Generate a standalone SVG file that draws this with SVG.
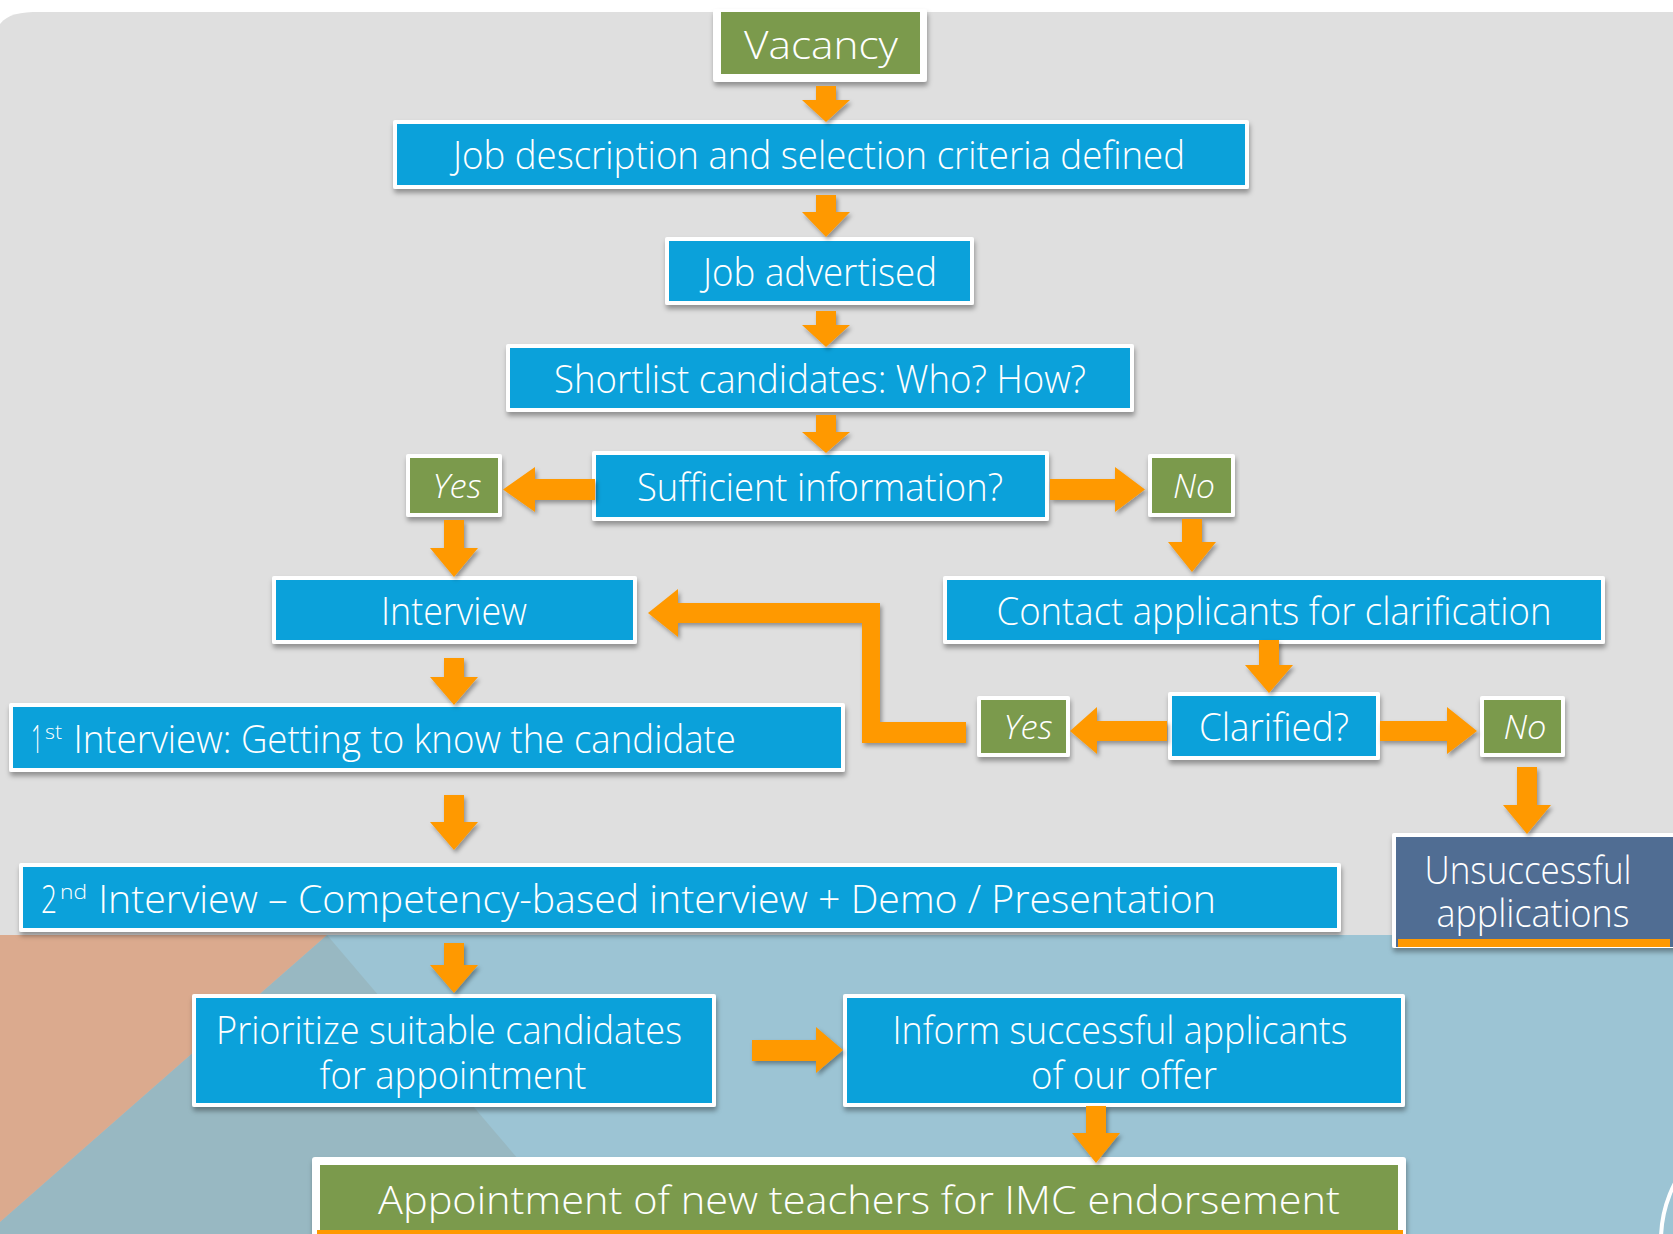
<svg xmlns="http://www.w3.org/2000/svg" width="1673" height="1234" viewBox="0 0 1673 1234">
<defs>
<filter id="sh" x="-5%" y="-20%" width="110%" height="150%">
<feDropShadow dx="1" dy="4" stdDeviation="2.5" flood-color="#000" flood-opacity="0.35"/>
</filter>
<filter id="ash" x="-30%" y="-30%" width="160%" height="160%">
<feDropShadow dx="2" dy="3" stdDeviation="2" flood-color="#000" flood-opacity="0.35"/>
</filter>
<style>
.frame{fill:#ffffff;filter:url(#sh)}
.blue{fill:#0BA1DA}
.green{fill:#7B9A4C}
.slate{fill:#506D93}
.bar{fill:#FF9900}
.t{font-family:"Open Sans","Segoe UI","Liberation Sans",sans-serif;fill:#ffffff;font-size:39px;font-weight:300}
.c{text-anchor:middle}
.i{font-style:italic;font-size:33px}
.sup{font-size:21px}
.arrow{fill:#FF9900;filter:url(#ash)}
</style>
</defs>

<g id="background">
<rect x="0" y="0" width="1673" height="1234" fill="#ffffff"/>
<path d="M0 24 C8 14 20 12 40 12 L1673 12 L1673 936 L0 936 Z" fill="#DFDFDF"/>
<rect x="0" y="935" width="1673" height="299" fill="#9CC4D4"/>
<polygon points="327,935 582,1234 0,1234 0,1222" fill="#98B8C2"/>
<polygon points="0,935 327,935 0,1222" fill="#DBAA8E"/>
<circle cx="1784" cy="1240" r="123" fill="none" stroke="#ffffff" stroke-width="4"/>
</g>

<g id="vacancy">
<rect class="frame" x="713" y="9" width="214" height="73" rx="3"/>
<rect class="green" x="721" y="12" width="199" height="62"/>
<text class="t c" x="821" y="59" font-size="44" textLength="154" lengthAdjust="spacingAndGlyphs">Vacancy</text>
</g>

<g id="job-description">
<rect class="frame" x="393" y="120" width="856" height="69" rx="2"/>
<rect class="blue" x="397" y="124" width="848" height="61"/>
<text class="t c" x="819" y="169" textLength="732" lengthAdjust="spacingAndGlyphs">Job description and selection criteria defined</text>
</g>

<g id="job-advertised">
<rect class="frame" x="665" y="237" width="309" height="68" rx="2"/>
<rect class="blue" x="669" y="241" width="301" height="60"/>
<text class="t c" x="820" y="286" textLength="234" lengthAdjust="spacingAndGlyphs">Job advertised</text>
</g>

<g id="shortlist">
<rect class="frame" x="506" y="344" width="628" height="68" rx="2"/>
<rect class="blue" x="510" y="348" width="620" height="60"/>
<text class="t c" x="820" y="393" textLength="532" lengthAdjust="spacingAndGlyphs">Shortlist candidates: Who? How?</text>
</g>

<g id="sufficient-information">
<rect class="frame" x="592" y="451" width="457" height="70" rx="2"/>
<rect class="blue" x="596" y="455" width="449" height="62"/>
<text class="t c" x="820" y="501" textLength="366" lengthAdjust="spacingAndGlyphs">Sufficient information?</text>
</g>

<g id="yes-1">
<rect class="frame" x="406" y="454" width="96" height="63" rx="2"/>
<rect class="green" x="410" y="458" width="88" height="55"/>
<text class="t c i" x="457" y="498" textLength="49" lengthAdjust="spacingAndGlyphs">Yes</text>
</g>

<g id="no-1">
<rect class="frame" x="1148" y="454" width="87" height="63" rx="2"/>
<rect class="green" x="1152" y="458" width="79" height="55"/>
<text class="t c i" x="1194" y="498" textLength="42" lengthAdjust="spacingAndGlyphs">No</text>
</g>

<g id="interview">
<rect class="frame" x="272" y="576" width="365" height="68" rx="2"/>
<rect class="blue" x="276" y="580" width="357" height="60"/>
<text class="t c" x="454" y="625" textLength="146" lengthAdjust="spacingAndGlyphs">Interview</text>
</g>

<g id="contact-applicants">
<rect class="frame" x="943" y="576" width="662" height="68" rx="2"/>
<rect class="blue" x="947" y="580" width="654" height="60"/>
<text class="t c" x="1274" y="625" textLength="555" lengthAdjust="spacingAndGlyphs">Contact applicants for clarification</text>
</g>

<g id="clarified">
<rect class="frame" x="1168" y="692" width="212" height="68" rx="2"/>
<rect class="blue" x="1172" y="696" width="204" height="60"/>
<text class="t c" x="1274" y="741" textLength="150" lengthAdjust="spacingAndGlyphs">Clarified?</text>
</g>

<g id="yes-2">
<rect class="frame" x="977" y="696" width="93" height="61" rx="2"/>
<rect class="green" x="981" y="700" width="85" height="53"/>
<text class="t c i" x="1028" y="739" textLength="49" lengthAdjust="spacingAndGlyphs">Yes</text>
</g>

<g id="no-2">
<rect class="frame" x="1480" y="696" width="85" height="61" rx="2"/>
<rect class="green" x="1484" y="700" width="77" height="53"/>
<text class="t c i" x="1525" y="739" textLength="43" lengthAdjust="spacingAndGlyphs">No</text>
</g>

<g id="unsuccessful-applications">
<rect class="frame" x="1392" y="833" width="300" height="115" rx="2"/>
<rect class="slate" x="1396" y="837" width="290" height="110"/>
<rect class="bar" x="1398" y="939" width="272" height="8"/>
<text class="t c" x="1528" y="884" font-size="37" textLength="207" lengthAdjust="spacingAndGlyphs">Unsuccessful</text>
<text class="t c" x="1533" y="927" font-size="37" textLength="193" lengthAdjust="spacingAndGlyphs">applications</text>
</g>

<g id="first-interview">
<rect class="frame" x="9" y="703" width="836" height="69" rx="2"/>
<rect class="blue" x="13" y="707" width="828" height="61"/>
<text class="t" y="753"><tspan x="31" textLength="12" lengthAdjust="spacingAndGlyphs">1</tspan><tspan class="sup" x="45" dy="-14" textLength="17" lengthAdjust="spacingAndGlyphs">st</tspan><tspan x="64" dy="14" textLength="672" lengthAdjust="spacingAndGlyphs"> Interview: Getting to know the candidate</tspan></text>
</g>

<g id="second-interview">
<rect class="frame" x="19" y="863" width="1322" height="69" rx="2"/>
<rect class="blue" x="23" y="867" width="1314" height="61"/>
<text class="t" y="913"><tspan x="41" textLength="16" lengthAdjust="spacingAndGlyphs">2</tspan><tspan class="sup" x="60" dy="-14" textLength="27" lengthAdjust="spacingAndGlyphs">nd</tspan><tspan x="88" dy="14" textLength="1128" lengthAdjust="spacingAndGlyphs"> Interview – Competency-based interview + Demo / Presentation</tspan></text>
</g>

<g id="prioritize">
<rect class="frame" x="192" y="994" width="524" height="113" rx="2"/>
<rect class="blue" x="196" y="998" width="516" height="105"/>
<text class="t c" x="449" y="1044" textLength="466" lengthAdjust="spacingAndGlyphs">Prioritize suitable candidates</text>
<text class="t c" x="453" y="1089" textLength="267" lengthAdjust="spacingAndGlyphs">for appointment</text>
</g>

<g id="inform">
<rect class="frame" x="843" y="994" width="562" height="113" rx="2"/>
<rect class="blue" x="847" y="998" width="554" height="105"/>
<text class="t c" x="1120" y="1044" textLength="455" lengthAdjust="spacingAndGlyphs">Inform successful applicants</text>
<text class="t c" x="1124" y="1089" textLength="186" lengthAdjust="spacingAndGlyphs">of our offer</text>
</g>

<g id="appointment">
<rect class="frame" x="312" y="1157" width="1094" height="90" rx="3"/>
<rect class="green" x="320" y="1165" width="1078" height="65"/>
<rect class="bar" x="317" y="1230" width="1086" height="6"/>
<text class="t c" x="859" y="1214" font-size="43" textLength="962" lengthAdjust="spacingAndGlyphs">Appointment of new teachers for IMC endorsement</text>
</g>

<g id="connectors">
<polygon class="arrow" points="816,86 836,86 836,100 850,100 826,122 802,100 816,100"/>
<polygon class="arrow" points="816,195 836,195 836,212 850,212 826,237 802,212 816,212"/>
<polygon class="arrow" points="816,311 836,311 836,325 850,325 826,347 802,325 816,325"/>
<polygon class="arrow" points="816,415 836,415 836,432 850,432 826,453 802,432 816,432"/>
<polygon class="arrow" points="595,479 595,500 535,500 535,512 503,489.5 535,467 535,479"/>
<polygon class="arrow" points="1050,479 1115,479 1115,467 1145,489.5 1115,512 1115,500 1050,500"/>
<polygon class="arrow" points="444,520 464,520 464,548 478,548 454,577 430,548 444,548"/>
<polygon class="arrow" points="1182,519 1202,519 1202,542 1216,542 1192,572 1168,542 1182,542"/>
<polygon class="arrow" points="1259,640 1279,640 1279,665 1293,665 1269,693 1245,665 1259,665"/>
<polygon class="arrow" points="1167,721 1167,741 1097,741 1097,754 1070,731 1097,707 1097,721"/>
<polygon class="arrow" points="1380,721 1447,721 1447,707 1477,731 1447,754 1447,741 1380,741"/>
<polygon class="arrow" points="1517,767 1537,767 1537,805 1551,805 1527,834 1503,805 1517,805"/>
<polygon class="arrow" points="678,603 880,603 880,722 966,722 966,743 862,743 862,623 678,623 678,637 648,613 678,589"/>
<polygon class="arrow" points="444,658 464,658 464,677 478,677 454,705 430,677 444,677"/>
<polygon class="arrow" points="444,795 464,795 464,822 478,822 454,850 430,822 444,822"/>
<polygon class="arrow" points="444,943 464,943 464,965 478,965 454,993 430,965 444,965"/>
<polygon class="arrow" points="752,1040 816,1040 816,1027 843,1050 816,1073 816,1061 752,1061"/>
<polygon class="arrow" points="1086,1106 1106,1106 1106,1133 1120,1133 1096,1163 1072,1133 1086,1133"/>
</g>
</svg>
